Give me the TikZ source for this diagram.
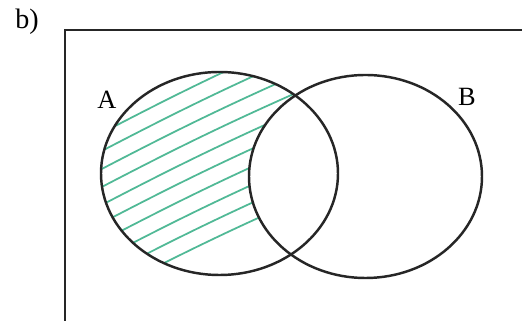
\documentclass[tikz,border=0pt]{standalone}
\usepackage{fontspec}
\setmainfont{Liberation Serif}
\definecolor{hatch}{RGB}{80,185,150}
\begin{document}
\begin{tikzpicture}[x=0.02cm,y=0.02cm,
  setline/.style={line width=1.4pt,black!85},
  framelines/.style={line width=1.1pt,black!85},
  hatchline/.style={line width=1pt,hatch,line cap=round},
  lbl/.style={font=\fontsize{15}{17}\selectfont,inner sep=0pt}]
\useasboundingbox (0,0) rectangle (522,321);
\fill[white] (0,0) rectangle (522,321);
\node[lbl,font=\fontsize{16}{18}\selectfont] (title) at (27,299) {b)};
\coordinate (fbl) at (65,0);
\coordinate (ftl) at (65,291);
\coordinate (ftr) at (522,291);
\draw[framelines] (fbl) -- (ftl) -- (ftr);
% hatching of A minus B
\begin{scope}
  \clip (219.5,147.5) ellipse [x radius=118.5, y radius=101.5];
  \begin{scope}[even odd rule]
  \clip (0,0) rectangle (522,321) (365.5,144.5) ellipse [x radius=116.5, y radius=101.5];
  \foreach \c in {100,118,136,154,172,190,208,226,244,262,280,298}{
    \draw[hatchline] (96,321-\c) to[bend left=2] (330,321-\c+112);
  }
  \end{scope}
\end{scope}
\draw[setline] (219.5,147.5) ellipse [x radius=118.5, y radius=101.5];
\draw[setline] (365.5,144.5) ellipse [x radius=116.5, y radius=101.5];
\node[lbl] (labA) at (107,221) {A};
\node[lbl] (labB) at (467,224) {B};
\end{tikzpicture}
\end{document}
